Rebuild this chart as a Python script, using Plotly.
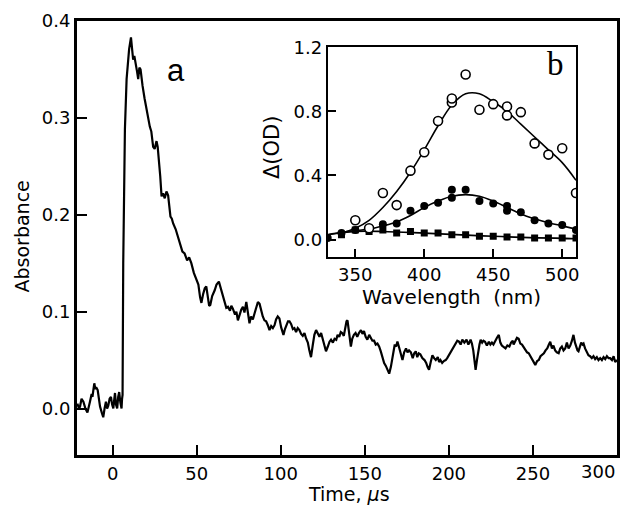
import plotly.graph_objects as go

# ---- Panel a: kinetic trace ----
time_us = [
    -21, -20, -19.4, -18.5, -17.4, -16.2, -15, -14.2, -13.5, -12.5, -12, -11.4, -10.9, -10.3, -9.8, -8.9,
    -8.2, -7.5, -6.5, -5.6, -4.8, -4, -3.3, -2.6, -1.8, -1, -0.3, 0.4, 1, 1.4, 2, 2.7, 3.3, 3.9, 4.6, 5.3,
    5.6, 5.9, 6.3, 6.7, 7.3, 8.3, 9.8, 10.9,
    11.3, 11.8, 12.2, 12.9, 13.8, 14.5, 15.2, 15.9, 16.6, 17.2, 17.8, 19, 20.2, 21.1, 22.1, 23, 24.1, 25,
    26.1, 26.8, 27.6, 28.3, 29.1, 30, 31, 32, 33, 33.7, 34.4, 35.2, 36, 37.5, 38.9, 40.2, 41.5, 42.8, 44.3,
    45.5, 46.8, 48.3, 49.8, 51, 52, 52.8, 53.8, 54.8, 55.7, 56.8, 57.4, 58.1, 59.2, 60.7, 61.8, 63.2, 64.3,
    65.6, 66.8, 67.6, 68.6, 69.8, 70.6, 71.5, 72.8, 73.6, 74.5, 75.5, 76.5, 77.5, 78.4, 79.5, 80.5, 81.4,
    82.3, 83.4, 84.4, 85.4, 86.4, 87.4, 88.3, 89.3, 90.3, 91.3, 92.3, 93.3, 94.3, 95.3, 96.3, 97.2, 98.2,
    99.2, 100.2, 101, 101.6, 102.5, 103.4, 104.3, 105.2, 106.2, 107.2, 108.1, 109.1, 110.1, 111.1, 112.1,
    113.1, 114.1, 115.1, 116.1, 117, 118, 119, 120, 121, 122, 123, 124, 125, 126, 126.9, 128, 129, 129.9,
    131, 132, 133, 133.8, 134.8, 135.7, 136.5, 137.5, 138.4, 139.1, 139.7, 140.5, 141.1, 141.7, 142.5,
    143.5, 144.5, 145.5, 146.5, 147.7, 148.6, 149.5, 150.5, 151.5, 152.6, 153.5, 154.5, 155.5, 156.5,
    157.5, 158.5, 159.5, 160.5, 161.5, 162.5, 163.5, 164.5, 165.5, 166.2, 167, 167.8, 168.6, 169.4, 170.4,
    171.4, 172.4, 173.4, 174.5, 175.4, 176.3, 177.4, 178.5, 179.4, 180.3, 181.2, 182.1, 183, 184.2, 185.5,
    186.5, 187.3, 188.2, 189.2, 190.2, 191.2, 192.2, 193.4, 194.2, 195, 196, 197, 198.1, 199, 200, 201,
    202, 203, 204, 205, 206, 207, 208, 209.2, 210.5, 211.6, 212.9, 213.7, 214.5, 215.2, 215.9, 216.7,
    217.5, 218.2, 218.9, 219.8, 220.6, 221.5, 222.6, 223.8, 224.7, 225.6, 226.5, 227.5, 228.6, 229.7,
    230.6, 231.5, 232.5, 233.7, 234.8, 236, 237, 238, 238.5, 239.5, 240.5, 241.5, 242.5, 243.5, 244.5,
    245.5, 246.5, 247.5, 248.5, 249.5, 250.5, 251.4, 252.5, 253.5, 254.5, 255.4, 256.5, 257.5, 258.5,
    259.5, 260.3, 261.3, 262.2, 263.2, 264.2, 265.3, 266.2, 267.2, 268.2, 269.2, 270.2, 271.2, 272.2,
    273.2, 274.1, 275, 275.8, 276.5, 277.1, 277.9, 278.7, 279.5, 280.1, 281, 282, 283, 284, 285, 286, 287,
    288, 289, 290, 291, 292, 293, 294, 295, 295.9, 297, 298, 298.9, 300]
absorbance = [
    0.005, 0.0, 0.002, 0.01, 0.007, 0.0, -0.004, 0.004, 0.007, 0.015, 0.012, 0.02, 0.026, 0.02, 0.022, 0.019,
    0.01, 0.002, -0.004, -0.009, 0.0, 0.007, 0.0, 0.003, 0.01, 0.012, 0.004, 0.0, 0.01, 0.016, 0.004, 0.0,
    0.012, 0.017, 0.006, 0.0, 0.01, 0.014, 0.15, 0.219, 0.288, 0.34, 0.371, 0.383,
    0.374, 0.365, 0.36, 0.364, 0.357, 0.348, 0.34, 0.352, 0.35, 0.338, 0.333, 0.32, 0.308, 0.302, 0.291,
    0.286, 0.27, 0.268, 0.276, 0.27, 0.257, 0.24, 0.219, 0.222, 0.217, 0.224, 0.22, 0.206, 0.198, 0.196,
    0.191, 0.185, 0.177, 0.17, 0.162, 0.16, 0.153, 0.156, 0.15, 0.14, 0.133, 0.128, 0.115, 0.109, 0.118,
    0.124, 0.126, 0.115, 0.106, 0.107, 0.116, 0.122, 0.128, 0.131, 0.124, 0.114, 0.108, 0.104, 0.105,
    0.101, 0.106, 0.103, 0.097, 0.1, 0.091, 0.097, 0.102, 0.105, 0.099, 0.11, 0.1, 0.088, 0.095, 0.092,
    0.098, 0.104, 0.11, 0.108, 0.1, 0.095, 0.091, 0.09, 0.086, 0.081, 0.085, 0.083, 0.086, 0.092, 0.095,
    0.093, 0.084, 0.079, 0.076, 0.082, 0.086, 0.09, 0.09, 0.087, 0.082, 0.083, 0.079, 0.083, 0.081, 0.077,
    0.075, 0.078, 0.072, 0.068, 0.06, 0.053, 0.065, 0.076, 0.081, 0.077, 0.074, 0.078, 0.072, 0.065,
    0.059, 0.064, 0.069, 0.071, 0.068, 0.072, 0.071, 0.076, 0.074, 0.079, 0.078, 0.075, 0.083, 0.09,
    0.091, 0.08, 0.07, 0.064, 0.072, 0.076, 0.078, 0.074, 0.078, 0.081, 0.077, 0.08, 0.074, 0.071, 0.076,
    0.073, 0.07, 0.07, 0.066, 0.067, 0.064, 0.059, 0.052, 0.047, 0.044, 0.039, 0.036, 0.043, 0.05, 0.055,
    0.066, 0.064, 0.069, 0.063, 0.055, 0.05, 0.058, 0.062, 0.058, 0.06, 0.058, 0.052, 0.057, 0.059, 0.053,
    0.057, 0.056, 0.052, 0.05, 0.047, 0.043, 0.04, 0.048, 0.055, 0.052, 0.05, 0.053, 0.048, 0.05, 0.047,
    0.049, 0.05, 0.052, 0.055, 0.058, 0.062, 0.065, 0.067, 0.07, 0.069, 0.066, 0.071, 0.068, 0.071, 0.066,
    0.071, 0.067, 0.06, 0.048, 0.04, 0.05, 0.06, 0.066, 0.071, 0.068, 0.07, 0.069, 0.065, 0.069, 0.066,
    0.068, 0.066, 0.07, 0.073, 0.076, 0.068, 0.065, 0.064, 0.062, 0.065, 0.064, 0.068, 0.07, 0.066, 0.07,
    0.073, 0.072, 0.067, 0.066, 0.063, 0.06, 0.058, 0.057, 0.054, 0.05, 0.047, 0.045, 0.049, 0.05, 0.054,
    0.055, 0.057, 0.06, 0.062, 0.066, 0.069, 0.062, 0.065, 0.06, 0.058, 0.057, 0.062, 0.064, 0.06, 0.062,
    0.068, 0.062, 0.065, 0.07, 0.076, 0.068, 0.062, 0.06, 0.059, 0.064, 0.068, 0.066, 0.067, 0.062, 0.058,
    0.055, 0.054, 0.052, 0.054, 0.051, 0.053, 0.05, 0.052, 0.05, 0.053, 0.051, 0.054, 0.052, 0.052, 0.05,
    0.054, 0.048, 0.05]

# ---- Panel b: spectra ----
wl_open = [350, 360, 370, 380, 390, 400, 410, 420, 420, 430, 440, 450, 460, 460, 470, 480, 490, 500, 510]
od_open = [0.12, 0.07, 0.29, 0.215, 0.43, 0.545, 0.74, 0.855, 0.88, 1.03, 0.81, 0.845, 0.83, 0.775, 0.795,
           0.60, 0.53, 0.57, 0.29]
wl_open_fit = [340, 350, 360, 370, 380, 390, 400, 410, 420, 430, 440, 450, 460, 470, 480, 490, 500, 510]
od_open_fit = [0.04, 0.07, 0.12, 0.2, 0.3, 0.42, 0.56, 0.71, 0.84, 0.91, 0.91, 0.86, 0.8, 0.72, 0.64, 0.56,
               0.48, 0.37]

wl_fill = [330, 340, 350, 360, 370, 380, 390, 400, 410, 420, 420, 430, 440, 450, 460, 460, 470, 480, 490,
           500, 510]
od_fill = [0.01, 0.04, 0.06, 0.06, 0.095, 0.10, 0.18, 0.21, 0.23, 0.31, 0.26, 0.31, 0.24, 0.225, 0.21,
           0.18, 0.17, 0.12, 0.10, 0.09, 0.06]
wl_fill_fit = [330, 340, 350, 360, 370, 380, 390, 400, 410, 420, 430, 440, 450, 460, 470, 480, 490, 500, 510]
od_fill_fit = [0.03, 0.045, 0.055, 0.065, 0.085, 0.11, 0.15, 0.2, 0.24, 0.27, 0.28, 0.27, 0.24, 0.2, 0.16,
               0.13, 0.105, 0.085, 0.065]

wl_sq = [340, 350, 360, 370, 380, 390, 400, 410, 420, 430, 440, 450, 460, 470, 480, 490, 500, 510]
od_sq = [0.03, 0.06, 0.05, 0.06, 0.04, 0.05, 0.04, 0.04, 0.03, 0.03, 0.02, 0.02, 0.015, 0.015, 0.01, 0.01,
         0.01, 0.01]
wl_sq_fit = [330, 350, 370, 400, 450, 510]
od_sq_fit = [0.03, 0.05, 0.05, 0.04, 0.02, 0.005]

main_xticks = [0, 50, 100, 150, 200, 250, 300]
main_yticks = [0.0, 0.1, 0.2, 0.3, 0.4]
inset_xticks = [350, 400, 450, 500]
inset_yticks = [0.0, 0.4, 0.8, 1.2]

FONT = "DejaVu Sans"
fig = go.Figure()

fig.add_trace(go.Scatter(x=time_us, y=absorbance, mode="lines",
                         line=dict(color="black", width=2.2), xaxis="x", yaxis="y", showlegend=False))

for xs, ys in [(wl_open_fit, od_open_fit), (wl_fill_fit, od_fill_fit), (wl_sq_fit, od_sq_fit)]:
    fig.add_trace(go.Scatter(x=xs, y=ys, mode="lines", line=dict(color="black", width=1.6, shape="spline"),
                             xaxis="x2", yaxis="y2", showlegend=False))

fig.add_trace(go.Scatter(x=wl_sq, y=od_sq, mode="markers",
                         marker=dict(symbol="square", size=7, color="black"),
                         xaxis="x2", yaxis="y2", showlegend=False))
fig.add_trace(go.Scatter(x=wl_fill, y=od_fill, mode="markers",
                         marker=dict(symbol="circle", size=8, color="black"),
                         xaxis="x2", yaxis="y2", showlegend=False))
fig.add_trace(go.Scatter(x=wl_open, y=od_open, mode="markers",
                         marker=dict(symbol="circle", size=9, color="white",
                                     line=dict(color="black", width=1.6)),
                         xaxis="x2", yaxis="y2", showlegend=False))

axis_common = dict(showline=True, mirror=True, linecolor="black", ticks="inside", tickcolor="black",
                   showgrid=False, zeroline=False, automargin=False,
                   tickfont=dict(family=FONT, size=18, color="black"))

fig.update_layout(
    width=624, height=506, autosize=False, margin=dict(l=0, r=0, t=0, b=0, pad=0),
    paper_bgcolor="white", plot_bgcolor="white",
    xaxis=dict(domain=[77/624, 617/624], range=[-21.2, 300], tickvals=main_xticks[:-1],
               ticktext=[str(v) for v in main_xticks[:-1]], linewidth=3, ticklen=10, tickwidth=2,
               anchor="y", **axis_common),
    yaxis=dict(domain=[1-455/506, 1-21/506], range=[-0.048, 0.4], tickvals=main_yticks,
               ticktext=[f"{v:.1f}" for v in main_yticks], linewidth=3, ticklen=10, tickwidth=2,
               anchor="x", **axis_common),
    xaxis2=dict(domain=[327.7/624, 576/624], range=[330, 510], tickvals=inset_xticks,
                ticktext=[str(v) for v in inset_xticks], linewidth=2, ticklen=8, tickwidth=1.5,
                anchor="y2", **axis_common),
    yaxis2=dict(domain=[1-257.3/506, 1-47.3/506], range=[-0.111, 1.2], tickvals=inset_yticks,
                ticktext=[f"{v:.1f}" for v in inset_yticks], linewidth=2, ticklen=8, tickwidth=1.5,
                anchor="x2", **axis_common),
)

def note(text, x, y, size, family=FONT, angle=0, xref="paper", xanchor="center"):
    fig.add_annotation(text=text, x=x, y=y, xref=xref, yref="paper", xanchor=xanchor, yanchor="middle",
                       textangle=angle, showarrow=False, font=dict(family=family, size=size, color="black"))

note("300", 300, 1-471.5/506, 18, xref="x", xanchor="right")
note("Time, <i>μ</i>s", 349/624, 1-494/506, 19)
note("Absorbance", 21.5/624, 1-237/506, 19, angle=-90)
note("Wavelength  (nm)", 451/624, 1-296.5/506, 20)
note("Δ(OD)", 272/624, 1-148/506, 21, angle=-90)
note("a", 176/624, 1-71/506, 31, family="Liberation Sans")
note("b", 555.5/624, 1-64/506, 33, family="Liberation Serif")

fig.write_html("out.html", config={"responsive": False, "displayModeBar": False},
               post_script="document.body.style.margin='0';document.body.style.overflow='hidden';")
